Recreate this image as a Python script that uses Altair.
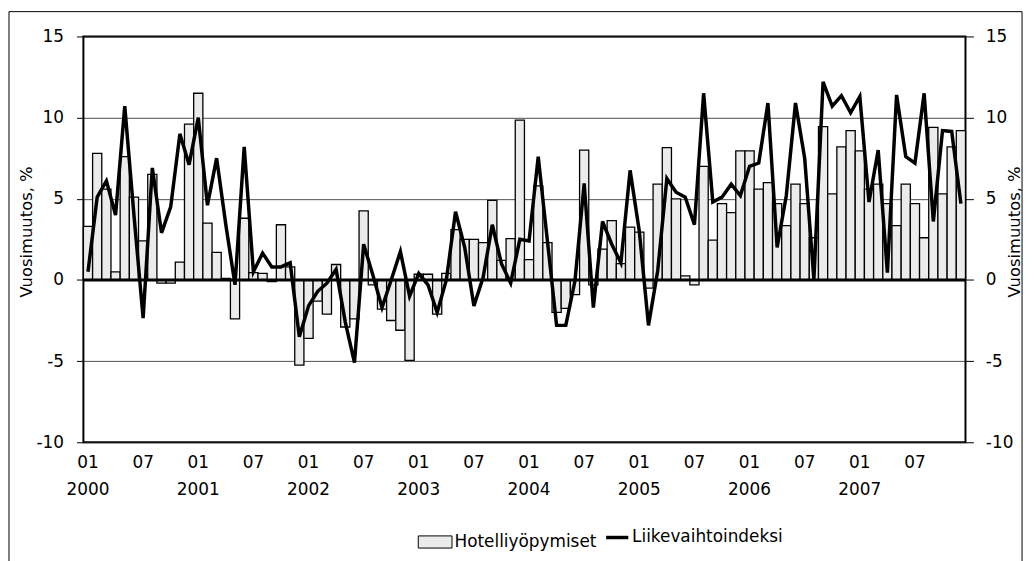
import altair as alt
import pandas as pd

# ---- data (monthly, 2000-01 .. 2007-12) ----
years = ["2000", "2001", "2002", "2003", "2004", "2005", "2006", "2007"]
month_ticks = ["01", "07"]

hotel = [
    3.3, 7.8, 5.6, 0.5, 7.6, 5.1, 2.4, 6.5, -0.2, -0.2, 1.1, 9.6,
    11.5, 3.5, 1.7, 0.1, -2.4, 3.8, 0.45, 0.4, -0.1, 3.4, 0.8, -5.25,
    -3.6, -1.3, -2.1, 0.95, -2.9, -2.4, 4.25, -0.3, -1.8, -2.5, -3.1, -4.95,
    0.35, 0.35, -2.1, 0.4, 3.1, 2.5, 2.5, 2.3, 4.9, 1.2, 2.55, 9.85,
    1.25, 5.8, 2.3, -2.0, -1.75, -0.9, 8.0, -0.3, 1.9, 3.65, 1.0, 3.25,
    2.95, -0.5, 5.9, 8.15, 5.0, 0.25, -0.3, 7.0, 2.45, 4.7, 4.15, 7.95,
    7.95, 5.6, 6.0, 4.7, 3.35, 5.9, 4.7, 2.6, 9.45, 5.3, 8.2, 9.2,
    7.95, 5.6, 5.9, 4.7, 3.35, 5.9, 4.7, 2.6, 9.4, 5.3, 8.2, 9.2,
]

turnover = [
    0.5, 5.1, 6.1, 4.0, 10.7, 4.0, -2.35, 6.9, 2.9, 4.5, 9.0, 7.1,
    10.0, 4.6, 7.5, 3.4, -0.3, 8.2, 0.5, 1.65, 0.8, 0.8, 1.05, -3.5,
    -1.6, -0.7, -0.2, 0.65, -2.6, -5.1, 2.2, 0.3, -1.7, 0.0, 1.75, -1.0,
    0.4, -0.3, -2.0, 0.0, 4.2, 2.0, -1.6, 0.15, 3.4, 1.0, -0.2, 2.5,
    2.4, 7.6, 2.4, -2.8, -2.8, -0.05, 5.95, -1.7, 3.6, 2.2, 1.05, 6.75,
    3.0, -2.8, 0.55, 6.25, 5.4, 5.1, 3.4, 11.5, 4.8, 5.1, 5.9, 5.2,
    7.0, 7.2, 10.9, 2.0, 5.2, 10.9, 7.5, 0.05, 12.2, 10.7, 11.35, 10.3,
    11.3, 4.8, 8.0, 0.45, 11.4, 7.6, 7.2, 11.5, 3.6, 9.2, 9.15, 4.7,
]

S1 = "Hotelliyöpymiset"
S2 = "Liikevaihtoindeksi"

n = len(hotel)
df = pd.DataFrame({
    "i": list(range(n)),
    "i2": [k + 1 for k in range(n)],
    "mid": [k + 0.5 for k in range(n)],
    "hotel": hotel,
    "turnover": turnover,
    "zero": [0.0] * n,
    "s1": [S1] * n,
    "s2": [S2] * n,
})

mon_df = pd.DataFrame({
    "pos": [k * 6 + 0.5 for k in range(2 * len(years))],
    "lab": [month_ticks[k % 2] for k in range(2 * len(years))],
})
yr_df = pd.DataFrame({
    "pos": [k * 12 + 0.5 for k in range(len(years))],
    "lab": years,
})

W, H = 889, 409
FONT = "DejaVu Sans"

xs = alt.Scale(domain=[0, n], nice=False, zero=False)
ys = alt.Scale(domain=[-10, 15], nice=False, zero=False)

x_grid_axis = alt.Axis(values=list(range(0, n + 1, 3)), grid=True, gridColor="#222222",
                       gridWidth=0.8, labels=False, ticks=False, domain=False, title=None)

left_axis = alt.Axis(values=[-10, -5, 0, 5, 10, 15], orient="left", grid=True,
                     gridColor="#222222", gridWidth=0.8, domain=False,
                     tickColor="#000000", tickSize=7, labelPadding=13,
                     labelExpr="'' + datum.value",
                     labelFont=FONT, labelFontSize=17, labelColor="#000000",
                     title="Vuosimuutos, %", titleFont=FONT, titleFontSize=16.5,
                     titleFontWeight="normal", titleColor="#000000",
                     titleAngle=270, titleBaseline="middle", titleX=-57, titleY=H / 2 - 8)

right_axis = alt.Axis(values=[-10, -5, 0, 5, 10, 15], orient="right", grid=False,
                      domain=False, tickColor="#000000", tickSize=8, labelPadding=12,
                      labelExpr="'' + datum.value",
                      labelFont=FONT, labelFontSize=17, labelColor="#000000",
                      title="Vuosimuutos, %", titleFont=FONT, titleFontSize=16.5,
                      titleFontWeight="normal", titleColor="#000000",
                      titleAngle=270, titleBaseline="middle", titleX=49, titleY=H / 2 - 8)

base = alt.Chart(df)

bars = base.mark_rect(stroke="#000000", strokeWidth=1.3).encode(
    x=alt.X("i:Q", scale=xs, axis=x_grid_axis),
    x2="i2:Q",
    y=alt.Y("hotel:Q", scale=ys, axis=left_axis),
    y2="zero:Q",
    fill=alt.Fill("s1:N", scale=alt.Scale(domain=[S1], range=["#ebebeb"]),
                  legend=alt.Legend(orient="none", legendX=337, legendY=492, title=None,
                                    symbolType="M-1,-0.36H1V0.36H-1Z", symbolSize=1156,
                                    symbolStrokeColor="#000000", symbolStrokeWidth=1,
                                    labelFont=FONT, labelFontSize=17, labelColor="#000000",
                                    labelOffset=2)),
)

zero_rule = alt.Chart(pd.DataFrame({"z": [0.0]})).mark_rule(
    color="#000000", strokeWidth=3).encode(y=alt.Y("z:Q", scale=ys, axis=None))

line = base.mark_line(strokeWidth=3.5, strokeJoin="miter").encode(
    x=alt.X("mid:Q", scale=xs, axis=None),
    y=alt.Y("turnover:Q", scale=ys, axis=right_axis),
    stroke=alt.Stroke("s2:N", scale=alt.Scale(domain=[S2], range=["#000000"]),
                      legend=alt.Legend(orient="none", legendX=525, legendY=492, title=None,
                                        symbolType="stroke", symbolSize=500,
                                        symbolStrokeWidth=3.5,
                                        labelFont=FONT, labelFontSize=17,
                                        labelColor="#000000", labelOffset=2)),
)

mon_text = alt.Chart(mon_df).mark_text(font=FONT, fontSize=17, color="#000000",
                                       baseline="middle").encode(
    x=alt.X("pos:Q", scale=xs, axis=None),
    y=alt.value(430),
    text="lab:N",
)
yr_text = alt.Chart(yr_df).mark_text(font=FONT, fontSize=17, color="#000000",
                                     baseline="middle").encode(
    x=alt.X("pos:Q", scale=xs, axis=None),
    y=alt.value(457),
    text="lab:N",
)

frame = alt.Chart(pd.DataFrame({"a": [0]})).mark_rect(
    fill="transparent", stroke="#000000", strokeWidth=1).encode(
    x=alt.value(-75), x2=alt.value(W + 57), y=alt.value(-25), y2=alt.value(560))

chart = alt.layer(frame, bars, zero_rule, line, mon_text, yr_text).resolve_scale(
    fill="independent", stroke="independent"
).resolve_axis(y="independent").properties(
    width=W, height=H,
    autosize=alt.AutoSizeParams(type="none"),
    padding={"left": 76, "top": 26.5, "right": 62, "bottom": 117.5},
    background="white",
).configure_view(stroke="#000000", strokeWidth=2)

chart.save("out.html", embed_options={"renderer": "svg", "actions": False})
